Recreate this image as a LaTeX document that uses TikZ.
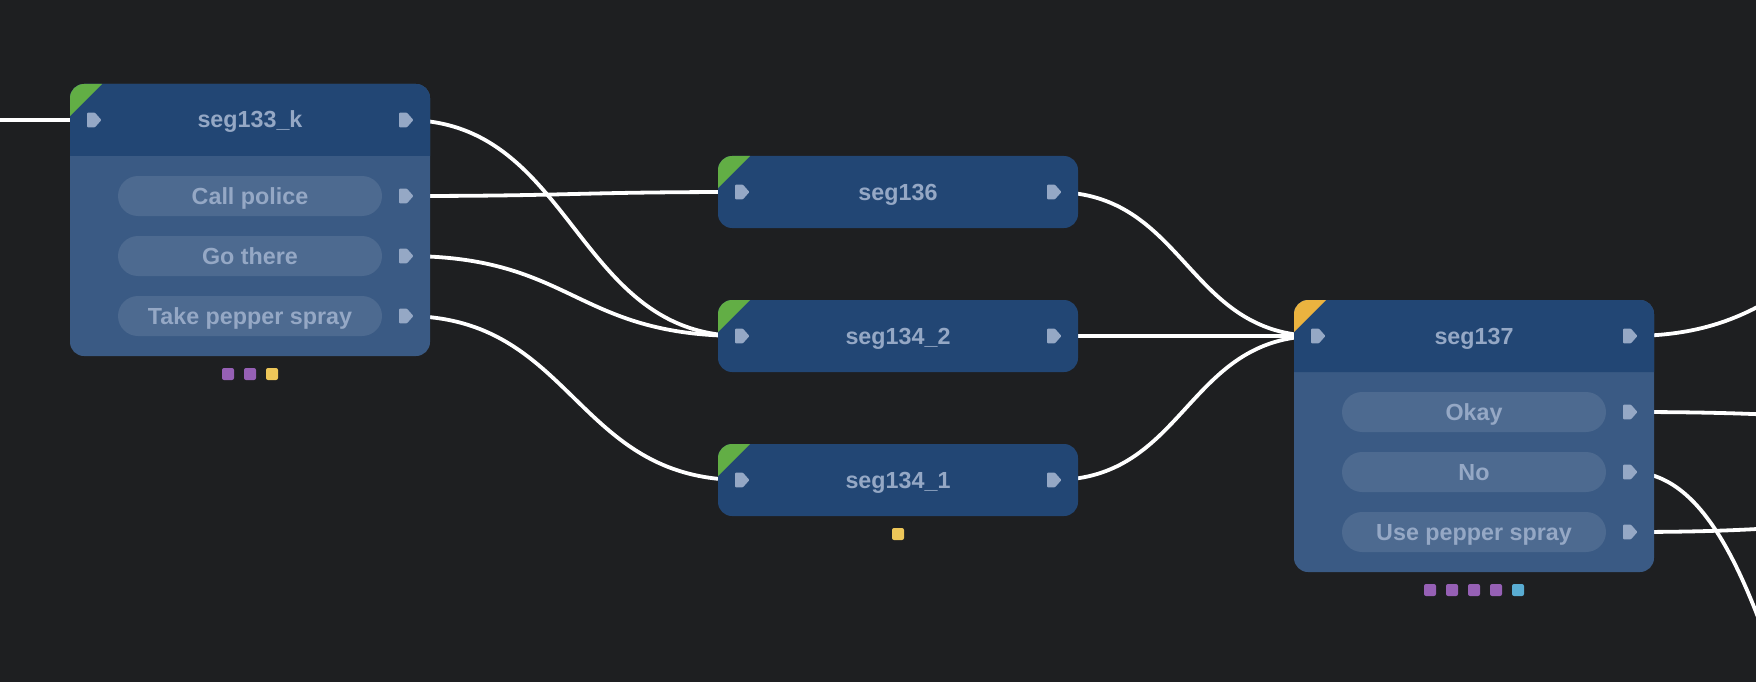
\documentclass[tikz,border=0pt]{standalone}
\usepackage{fontspec}
\setmainfont{Liberation Sans}
\definecolor{bgc}{HTML}{1E1F21}
\definecolor{headc}{HTML}{224674}
\definecolor{bodyc}{HTML}{3A5A84}
\definecolor{pillc}{HTML}{4D6A90}
\definecolor{textc}{HTML}{95A8C5}
\definecolor{portc}{HTML}{95A8C5}
\definecolor{greenc}{HTML}{62AE45}
\definecolor{ambc}{HTML}{EBB33F}
\definecolor{purc}{HTML}{9660B5}
\definecolor{yelc}{HTML}{EDC659}
\definecolor{bluc}{HTML}{59ACD2}
\newcommand{\cornertri}[3]{\fill[#1,shift={(#2,#3)}] (0,32) -- (0,14) .. controls (0,6.27) and (6.27,0) .. (14,0) -- (32,0) -- cycle;}
\newcommand{\headtop}[2]{\fill[headc,shift={(#1,#2)}] (0,72) -- (0,14) .. controls (0,6.27) and (6.27,0) .. (14,0) -- (346,0) .. controls (353.73,0) and (360,6.27) .. (360,14) -- (360,72) -- cycle;}
\tikzset{
  boxshape/.style={rectangle,rounded corners=14pt,inner sep=0pt,outer sep=0pt,draw=none,minimum width=360pt},
  headbox/.style={boxshape,fill=headc,minimum height=72pt},
  bodybox/.style={boxshape,fill=bodyc,minimum height=272pt},
  pillbox/.style={rectangle,rounded corners=20pt,fill=pillc,inner sep=0pt,outer sep=0pt,minimum width=264pt,minimum height=40pt},
  lab/.style={anchor=base,text=textc,inner sep=0pt,font=\fontsize{23.3}{26}\selectfont\bfseries},
  sq/.style={rectangle,rounded corners=2pt,inner sep=0pt,outer sep=0pt,minimum width=12pt,minimum height=12pt,fill=#1},
  wire/.style={draw=white,line width=3.8pt,out=0,in=180,distance=#1},
  porticon/.pic={\fill[portc,rounded corners=0.8pt] (-7,-7.3)--(1,-7.3)--(7.4,0)--(1,7.3)--(-7,7.3)--cycle;}
}
\begin{document}
\begin{tikzpicture}[x=1pt,y=-1pt]
\useasboundingbox (0,0) rectangle (1756,682);
\clip (0,0) rectangle (1756,682);
\fill[bgc] (0,0) rectangle (1756,682);

% ports
\coordinate (a0) at (94,120);
\coordinate (a1) at (406,120);
\coordinate (a2) at (406,196);
\coordinate (a3) at (406,256);
\coordinate (a4) at (406,316);
\coordinate (b0) at (742,192);
\coordinate (b1) at (1054,192);
\coordinate (c0) at (742,336);
\coordinate (c1) at (1054,336);
\coordinate (d0) at (742,480);
\coordinate (d1) at (1054,480);
\coordinate (e0) at (1318,336);
\coordinate (e1) at (1630,336);
\coordinate (e2) at (1630,412);
\coordinate (e3) at (1630,472);
\coordinate (e4) at (1630,532);

% free ends
\coordinate (inA) at (-10,120);
\coordinate (outA) at (1966,230);
\coordinate (outB) at (1966,420);
\coordinate (outC) at (1966,997);
\coordinate (outD) at (1966,521);

% connectors (run port to port, passing behind the boxes)
\path[wire=5pt] (inA) to (a0);
\path[wire=168pt] (a1) to (c0);
\path[wire=168pt] (a2) to (b0);
\path[wire=168pt] (a3) to (c0);
\path[wire=168pt] (a4) to (d0);
\path[wire=132pt] (b1) to (e0);
\path[wire=132pt] (c1) to (e0);
\path[wire=132pt] (d1) to (e0);
\path[wire=168pt] (e1) to (outA);
\path[wire=168pt] (e2) to (outB);
\path[wire=168pt] (e3) to (outC);
\path[wire=168pt] (e4) to (outD);

% seg133_k
\node[bodybox] (seg133) at (250,220) {};
\headtop{70}{84}
\cornertri{greenc}{70}{84}
\node[lab] (t133) at (250,128) {seg133\_k};
\node[pillbox] (p1) at (250,196) {};
\node[pillbox] (p2) at (250,256) {};
\node[pillbox] (p3) at (250,316) {};
\node[lab] (t1) at (250,204) {Call police};
\node[lab] (t2) at (250,264) {Go there};
\node[lab] (t3) at (250,324) {Take pepper spray};
\foreach \c in {a0,a1,a2,a3,a4} \pic at (\c) {porticon};
\node[sq=purc] (s1) at (228,374) {};
\node[sq=purc] (s2) at (250,374) {};
\node[sq=yelc] (s3) at (272,374) {};

% seg136
\node[headbox] (seg136) at (898,192) {};
\cornertri{greenc}{718}{156}
\node[lab] (t136) at (898,200) {seg136};

% seg134_2
\node[headbox] (seg1342) at (898,336) {};
\cornertri{greenc}{718}{300}
\node[lab] (t1342) at (898,344) {seg134\_2};

% seg134_1
\node[headbox] (seg1341) at (898,480) {};
\cornertri{greenc}{718}{444}
\node[lab] (t1341) at (898,488) {seg134\_1};
\node[sq=yelc] (s4) at (898,534) {};
\foreach \c in {b0,b1,c0,c1,d0,d1} \pic at (\c) {porticon};

% seg137
\node[bodybox] (seg137) at (1474,436) {};
\headtop{1294}{300}
\cornertri{ambc}{1294}{300}
\node[lab] (t137) at (1474,344) {seg137};
\node[pillbox] (p4) at (1474,412) {};
\node[pillbox] (p5) at (1474,472) {};
\node[pillbox] (p6) at (1474,532) {};
\node[lab] (t4) at (1474,420) {Okay};
\node[lab] (t5) at (1474,480) {No};
\node[lab] (t6) at (1474,540) {Use pepper spray};
\foreach \c in {e0,e1,e2,e3,e4} \pic at (\c) {porticon};
\node[sq=purc] (s5) at (1430,590) {};
\node[sq=purc] (s6) at (1452,590) {};
\node[sq=purc] (s7) at (1474,590) {};
\node[sq=purc] (s8) at (1496,590) {};
\node[sq=bluc] (s9) at (1518,590) {};
\end{tikzpicture}
\end{document}
